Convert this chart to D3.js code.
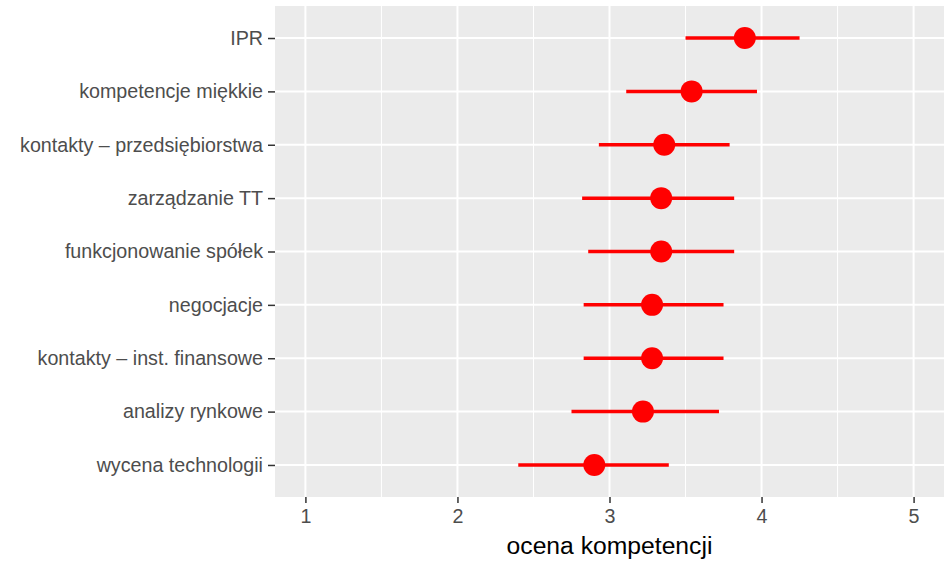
<!DOCTYPE html>
<html lang="pl">
<head>
<meta charset="UTF-8" />
<title>ocena kompetencji</title>
<script src="https://d3js.org/d3.v7.min.js"></script>
<style>
    body { margin: 0; background: #fff; }
    svg { display: block; font-family: "Liberation Sans", Arial, sans-serif; }
</style>
</head>
<body>
<svg width="950" height="562"></svg>
<script>
    // categories, top to bottom
    var categories = [
        "IPR",
        "kompetencje miękkie",
        "kontakty \u2013 przedsiębiorstwa",
        "zarządzanie TT",
        "funkcjonowanie spółek",
        "negocjacje",
        "kontakty \u2013 inst. finansowe",
        "analizy rynkowe",
        "wycena technologii"
    ];
    // mean score and interval ends
    var means = [3.89, 3.54, 3.36, 3.34, 3.34, 3.28, 3.28, 3.22, 2.90];
    var lower = [3.50, 3.11, 2.93, 2.82, 2.86, 2.83, 2.83, 2.75, 2.40];
    var upper = [4.25, 3.97, 3.79, 3.82, 3.82, 3.75, 3.75, 3.72, 3.39];
    var xTicks = [1, 2, 3, 4, 5];
    var xMinor = [1.5, 2.5, 3.5, 4.5];

    var svg = d3.select("svg");
    // panel edges
    var pLeft = 275, pRight = 944, pTop = 6, pBottom = 497;

    var x = d3.scaleLinear().domain([0.8, 5.2]).range([pLeft, pRight]);
    // discrete axis with ggplot-like 0.6 expansion
    var y = d3.scalePoint().domain(categories).range([pTop, pBottom]).padding(0.6);

    // panel background
    svg.append("rect")
        .attr("x", pLeft).attr("y", pTop)
        .attr("width", pRight - pLeft).attr("height", pBottom - pTop)
        .attr("fill", "#ebebeb");

    // minor grid
    svg.selectAll(".minor")
        .data(xMinor)
        .enter().append("line")
        .attr("x1", function(d) { return x(d); })
        .attr("x2", function(d) { return x(d); })
        .attr("y1", pTop).attr("y2", pBottom)
        .attr("stroke", "#fff").attr("stroke-width", 1);

    // major grid
    svg.selectAll(".majorx")
        .data(xTicks)
        .enter().append("line")
        .attr("x1", function(d) { return x(d); })
        .attr("x2", function(d) { return x(d); })
        .attr("y1", pTop).attr("y2", pBottom)
        .attr("stroke", "#fff").attr("stroke-width", 2);

    svg.selectAll(".majory")
        .data(categories)
        .enter().append("line")
        .attr("x1", pLeft).attr("x2", pRight)
        .attr("y1", function(d) { return y(d); })
        .attr("y2", function(d) { return y(d); })
        .attr("stroke", "#fff").attr("stroke-width", 2);

    // interval lines
    svg.selectAll(".range")
        .data(categories)
        .enter().append("line")
        .attr("x1", function(d, i) { return x(lower[i]); })
        .attr("x2", function(d, i) { return x(upper[i]); })
        .attr("y1", function(d) { return y(d); })
        .attr("y2", function(d) { return y(d); })
        .attr("stroke", "#ff0000").attr("stroke-width", 3.5);

    // points
    svg.selectAll(".pt")
        .data(categories)
        .enter().append("circle")
        .attr("cx", function(d, i) { return x(means[i]); })
        .attr("cy", function(d) { return y(d); })
        .attr("r", 11)
        .attr("fill", "#ff0000");

    // x axis
    var xAxis = d3.axisBottom(x).tickValues(xTicks).tickSize(6).tickPadding(6).tickFormat(d3.format("d"));
    var gx = svg.append("g")
        .attr("transform", "translate(0," + pBottom + ")")
        .call(xAxis);
    gx.select(".domain").remove();
    gx.selectAll(".tick line").attr("stroke", "#333").attr("stroke-width", 1.5);
    gx.selectAll(".tick text").attr("fill", "#4d4d4d").attr("font-size", "19.7px")
        .attr("font-family", "Liberation Sans, Arial, sans-serif");

    // y axis
    var yAxis = d3.axisLeft(y).tickSize(7).tickPadding(5);
    var gy = svg.append("g")
        .attr("transform", "translate(" + pLeft + ",0)")
        .call(yAxis);
    gy.select(".domain").remove();
    gy.selectAll(".tick line").attr("stroke", "#333").attr("stroke-width", 1.5);
    gy.selectAll(".tick text").attr("fill", "#4d4d4d").attr("font-size", "19.7px")
        .attr("font-family", "Liberation Sans, Arial, sans-serif");

    // x axis title
    svg.append("text")
        .attr("x", (pLeft + pRight) / 2)
        .attr("y", 554)
        .attr("text-anchor", "middle")
        .attr("font-size", "24.7px")
        .attr("fill", "#000")
        .text("ocena kompetencji");
</script>
</body>
</html>
